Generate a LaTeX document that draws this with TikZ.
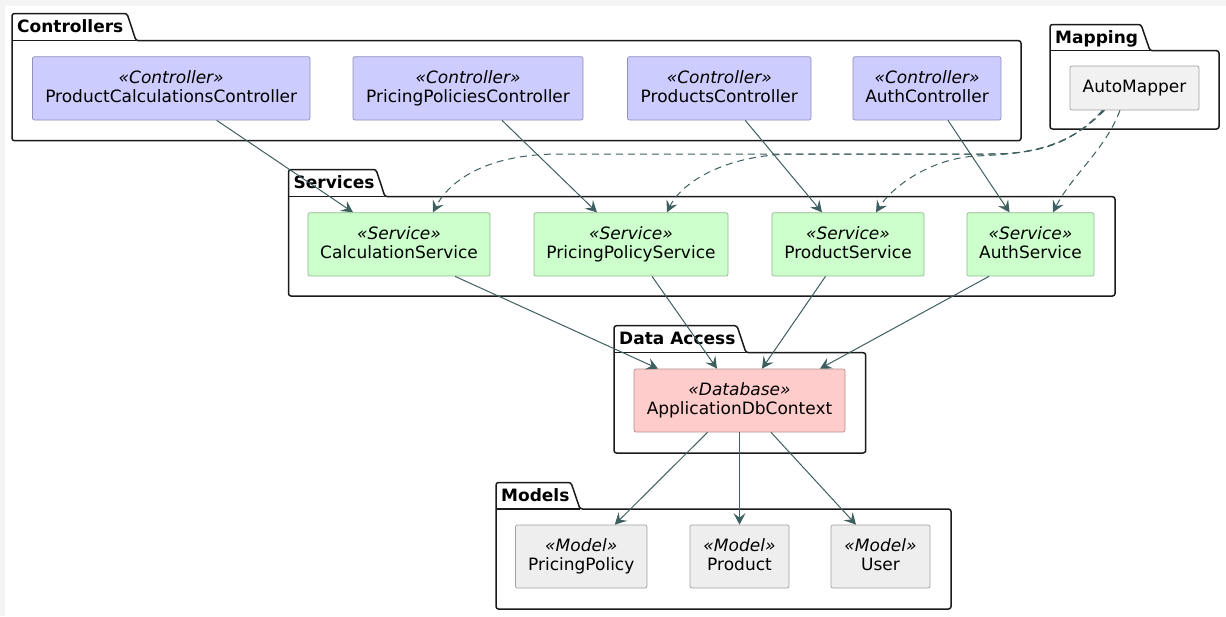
\documentclass[tikz,border=0pt]{standalone}
\usepackage{fontspec}
\setmainfont{DejaVu Sans}
\usetikzlibrary{arrows.meta}
\definecolor{ctrlfill}{HTML}{CCCCFF}
\definecolor{ctrlline}{HTML}{9090B8}
\definecolor{svcfill}{HTML}{CCFFCC}
\definecolor{svcline}{HTML}{90B890}
\definecolor{dbfill}{HTML}{FFCCCC}
\definecolor{dbline}{HTML}{B89090}
\definecolor{modfill}{HTML}{EEEEEE}
\definecolor{modline}{HTML}{A0A0A0}
\definecolor{mapfill}{HTML}{F1F1F1}
\definecolor{arrowc}{HTML}{3E5F5F}
\definecolor{pkgc}{HTML}{1A1A1A}
\definecolor{bggray}{HTML}{F4F4F4}
\newcommand\umlpkg[8]{%
  \draw[pkgline] (#6-30,#5) -- (#6,#5) -- (#6,#7) -- (#2,#7) -- (#2,#3) -- (#4,#3) -- (#4+9,#5) -- cycle;
  \draw[pkgline,rounded corners=0pt] (#2,#5) -- (#4+9,#5);
  \node[pkgtitle] (#1) at (#2+5,#3+18.5) {#8};
}
\begin{document}
\begin{tikzpicture}[x=1pt,y=-1pt,
  pkgline/.style={draw=pkgc,line width=1.5pt,rounded corners=2.5pt,line join=round},
  pkgtitle/.style={anchor=base west,inner sep=0pt,font=\fontsize{17}{20}\selectfont\bfseries},
  comp/.style={rectangle,rounded corners=2pt,line width=0.7pt,align=center,inner sep=0pt,
    font=\fontsize{17}{19.5}\selectfont},
  ctrl/.style={comp,fill=ctrlfill,draw=ctrlline,minimum height=63.3pt},
  svc/.style={comp,fill=svcfill,draw=svcline,minimum height=63.3pt},
  dbx/.style={comp,fill=dbfill,draw=dbline,minimum height=63pt},
  modx/.style={comp,fill=modfill,draw=modline,minimum height=63pt},
  mapx/.style={comp,fill=mapfill,draw=modline,minimum height=44pt},
  arr/.style={draw=arrowc,line width=1pt,-{Stealth[length=11.5pt,width=12pt,inset=4.5pt]}},
  darr/.style={arr,dash pattern=on 7pt off 5pt}
]
% background
\fill[bggray] (0,0) rectangle (1226,616);
\fill[white] (5,5.5) rectangle (1226,616);
\useasboundingbox (0,0) rectangle (1226,616);

% packages
\umlpkg{pctrl}{12}{13.5}{127}{40.7}{1021}{140.7}{Controllers}
\umlpkg{pmap}{1050}{24.5}{1141}{50.7}{1219}{129}{Mapping}
\umlpkg{psvc}{288.5}{169.5}{376}{196.7}{1115}{296}{Services}
\umlpkg{pdata}{614}{325.7}{737}{352.7}{865.7}{453}{Data Access}
\umlpkg{pmod}{496}{482.5}{571}{509}{951}{609}{Models}

% controllers
\node[ctrl,minimum width=277.6pt] (pcc) at (171.2,88.35) {\textit{«Controller»}\\ProductCalculationsController\vphantom{g}};
\node[ctrl,minimum width=230pt] (ppc) at (468,88.35) {\textit{«Controller»}\\PricingPoliciesController\vphantom{g}};
\node[ctrl,minimum width=183.5pt] (pc) at (719.25,88.35) {\textit{«Controller»}\\ProductsController\vphantom{g}};
\node[ctrl,minimum width=148pt] (ac) at (927,88.35) {\textit{«Controller»}\\AuthController\vphantom{g}};

% mapping
\node[mapx,minimum width=129pt] (am) at (1134.5,88) {AutoMapper};

% services
\node[svc,minimum width=182pt] (cs) at (399,244.35) {\textit{«Service»}\\CalculationService\vphantom{g}};
\node[svc,minimum width=194pt] (pps) at (631,244.35) {\textit{«Service»}\\PricingPolicyService\vphantom{g}};
\node[svc,minimum width=152pt] (ps) at (848,244.35) {\textit{«Service»}\\ProductService\vphantom{g}};
\node[svc,minimum width=127pt] (as) at (1030.5,244.35) {\textit{«Service»}\\AuthService\vphantom{g}};

% data access
\node[dbx,minimum width=211pt] (db) at (739.5,400.5) {\textit{«Database»}\\ApplicationDbContext\vphantom{g}};

% models
\node[modx,minimum width=131.5pt] (pp) at (581.25,556.5) {\textit{«Model»}\\PricingPolicy\vphantom{g}};
\node[modx,minimum width=99pt] (prod) at (739.5,556.5) {\textit{«Model»}\\Product\vphantom{g}};
\node[modx,minimum width=99pt] (user) at (880.5,556.5) {\textit{«Model»}\\User\vphantom{g}};

% controller -> service
\draw[arr] ([xshift=45.5pt]pcc.south) -- ([xshift=-46pt]cs.north);
\draw[arr] ([xshift=34pt]ppc.south) -- ([xshift=-34pt]pps.north);
\draw[arr] ([xshift=26pt]pc.south) -- ([xshift=-26pt]ps.north);
\draw[arr] ([xshift=21pt]ac.south) -- ([xshift=-21pt]as.north);

% automapper -> services (dashed)
\draw[darr] ([xshift=-32pt]am.south) .. controls (1075,140) and (1045,154) .. (990,154) -- (560,154) .. controls (480,154) and (447,185) .. ([xshift=34pt]cs.north);
\draw[darr] ([xshift=-31pt]am.south) .. controls (1075,140) and (1045,154) .. (990,154) -- (790,154) .. controls (720,156) and (680,185) .. ([xshift=36pt]pps.north);
\draw[darr] ([xshift=-30pt]am.south) .. controls (1070,145) and (1035,154) .. (975,156) .. controls (925,160) and (890,190) .. ([xshift=28pt]ps.north);
\draw[darr] ([xshift=-14.5pt]am.south) .. controls (1105,150) and (1072,175) .. ([xshift=22.5pt]as.north);

% services -> db
\draw[arr] ([xshift=56pt]cs.south) -- ([xshift=-81.5pt]db.north);
\draw[arr] ([xshift=21pt]pps.south) -- ([xshift=-22.5pt]db.north);
\draw[arr] ([xshift=-22.5pt]ps.south) -- ([xshift=22.5pt]db.north);
\draw[arr] ([xshift=-41.5pt]as.south) -- ([xshift=80.5pt]db.north);

% db -> models
\draw[arr] ([xshift=-32pt]db.south) -- ([xshift=33.5pt]pp.north);
\draw[arr] (db.south) -- (prod.north);
\draw[arr] ([xshift=31.5pt]db.south) -- ([xshift=-24.5pt]user.north);
\end{tikzpicture}
\end{document}
